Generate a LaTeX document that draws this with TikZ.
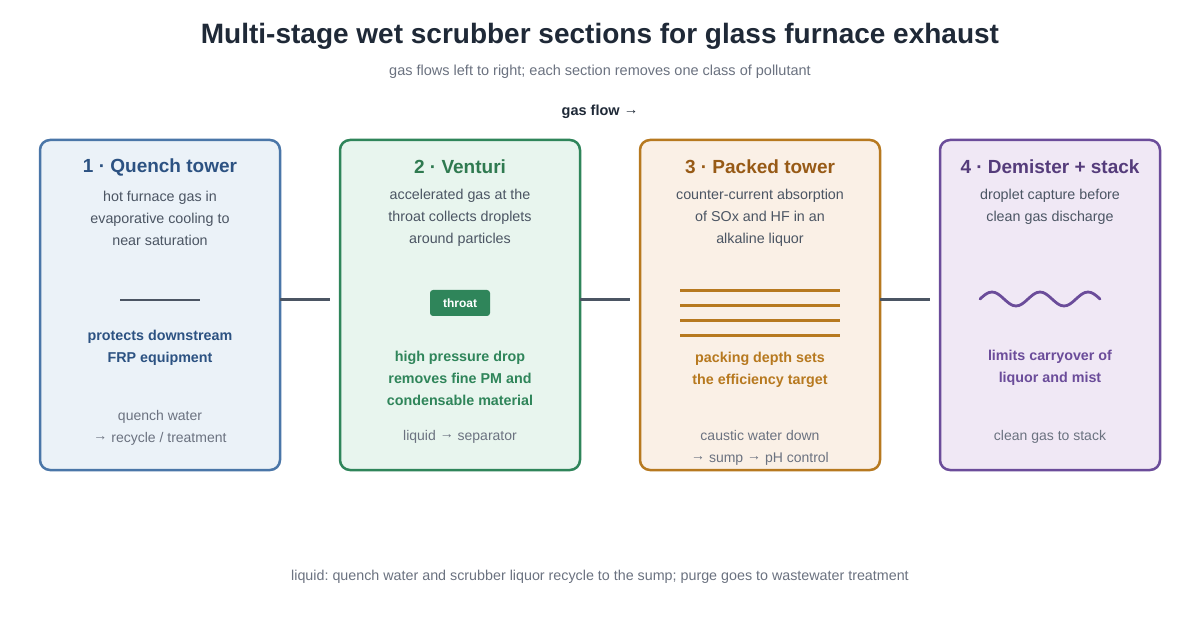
\documentclass[tikz,border=0pt]{standalone}
\usepackage{fontspec}
\setmainfont{Liberation Sans}
\frenchspacing
\newcommand\ra{\raisebox{0.22ex}{→}}
\definecolor{titlec}{HTML}{1F2937}
\definecolor{subc}{HTML}{6B7280}
\definecolor{descc}{HTML}{4B5563}
\definecolor{footc}{HTML}{6B7280}
\definecolor{conn}{HTML}{4B5563}
\definecolor{bstroke}{HTML}{4A76A8}
\definecolor{bfill}{HTML}{EBF2F8}
\definecolor{btext}{HTML}{2C5282}
\definecolor{gstroke}{HTML}{2F855A}
\definecolor{gfill}{HTML}{E8F5EE}
\definecolor{gtext}{HTML}{2F7A50}
\definecolor{gbold}{HTML}{2F855A}
\definecolor{ostroke}{HTML}{B7791F}
\definecolor{ofill}{HTML}{FAF0E6}
\definecolor{otext}{HTML}{975A16}
\definecolor{obold}{HTML}{B7791F}
\definecolor{pstroke}{HTML}{6B4C9A}
\definecolor{pfill}{HTML}{F0E8F5}
\definecolor{ptext}{HTML}{553C7B}
\definecolor{pbold}{HTML}{6B4C9A}
\tikzset{
  panel/.style={draw, rounded corners=10pt, line width=2.5pt, minimum height=330pt, inner sep=0pt},
  ptitle/.style={font=\fontsize{19}{22}\selectfont\bfseries, anchor=center},
  desc/.style={font=\fontsize{14.3}{22}\selectfont, text=descc, align=center, anchor=center},
  boldtxt/.style={font=\fontsize{14.3}{22}\selectfont\bfseries, align=center, anchor=center},
  foot/.style={font=\fontsize{14}{22}\selectfont, text=footc, align=center, anchor=center},
  connector/.style={draw=conn, line width=3pt},
  icon/.style={line width=2.8pt}
}
\begin{document}
\begin{tikzpicture}[x=1pt,y=-1pt]
\useasboundingbox[fill=white] (0,0) rectangle (1200,620);
% header
\node[font=\fontsize{28}{32}\selectfont\bfseries, text=titlec] (title) at (600,36) {Multi-stage wet scrubber sections for glass furnace exhaust};
\node[font=\fontsize{14.5}{16}\selectfont, text=subc] (sub) at (600,72) {gas flows left to right; each section removes one class of pollutant};
\node[font=\fontsize{14.5}{16}\selectfont\bfseries, text=titlec] (flow) at (600,112) {gas flow \ra};
% panels
\node[panel, draw=bstroke, fill=bfill, minimum width=240pt] (b1) at (160,305) {};
\node[panel, draw=gstroke, fill=gfill, minimum width=240pt] (b2) at (460,305) {};
\node[panel, draw=ostroke, fill=ofill, minimum width=240pt] (b3) at (760,305) {};
\node[panel, draw=pstroke, fill=pfill, minimum width=220pt] (b4) at (1050,305) {};
% connectors
\coordinate (c1s) at (280,300); \coordinate (c1e) at (330,300);
\coordinate (c2s) at (580,300); \coordinate (c2e) at (630,300);
\coordinate (c3s) at (880,300); \coordinate (c3e) at (930,300);
\draw[connector] (c1s) -- (c1e);
\draw[connector] (c2s) -- (c2e);
\draw[connector] (c3s) -- (c3e);
% panel 1
\node[ptitle, text=btext] (t1) at (160,167) {1 · Quench tower};
\node[desc] (d1) at (160,218) {hot furnace gas in\\evaporative cooling to\\near saturation};
\coordinate (q1) at (120,300); \coordinate (q2) at (200,300);
\draw[icon, draw=descc] (q1) -- (q2);
\node[boldtxt, text=btext] (k1) at (160,348) {protects downstream\\FRP equipment};
\node[foot] (f1) at (160,428) {quench water\\\ra{} recycle / treatment};
% panel 2
\node[ptitle, text=gtext] (t2) at (460,167) {2 · Venturi};
\node[desc] (d2) at (460,218) {accelerated gas at the\\throat collects droplets\\around particles};
\node[fill=gstroke, rounded corners=3pt, minimum width=60pt, minimum height=26pt, inner sep=0pt, text=white, font=\fontsize{12}{14}\selectfont\bfseries] (throat) at (460,303) {throat};
\node[boldtxt, text=gbold] (k2) at (460,378) {high pressure drop\\removes fine PM and\\condensable material};
\node[foot] (f2) at (460,437) {liquid \ra{} separator};
% panel 3
\node[ptitle, text=otext] (t3) at (760,167) {3 · Packed tower};
\node[desc] (d3) at (760,218) {counter-current absorption\\of SOx and HF in an\\alkaline liquor};
\foreach \yy [count=\i] in {290.5,305.5,320.5,335.5}{
  \coordinate (pa\i) at (680,\yy); \coordinate (pb\i) at (840,\yy);
  \draw[draw=ostroke, line width=2.4pt] (pa\i) -- (pb\i);
}
\node[boldtxt, text=obold] (k3) at (760,370) {packing depth sets\\the efficiency target};
\node[foot] (f3) at (760,448) {caustic water down\\\ra{} sump \ra{} pH control};
% panel 4
\node[ptitle, text=ptext] (t4) at (1050,167) {4 · Demister + stack};
\node[desc] (d4) at (1050,207) {droplet capture before\\clean gas discharge};
\coordinate (w0) at (980,299);
\draw[draw=pstroke, line width=2.8pt, line cap=round] (w0) sin (992,292) cos (1004,299) sin (1016,306) cos (1028,299) sin (1040,292) cos (1052,299) sin (1064,306) cos (1076,299) sin (1088,292) cos (1100,299);
\node[boldtxt, text=pbold] (k4) at (1050,368) {limits carryover of\\liquor and mist};
\node[foot] (f4) at (1050,437) {clean gas to stack};
% footer
\node[font=\fontsize{14.3}{16}\selectfont, text=footc] (bottom) at (600,577) {liquid: quench water and scrubber liquor recycle to the sump; purge goes to wastewater treatment};
\end{tikzpicture}
\end{document}
